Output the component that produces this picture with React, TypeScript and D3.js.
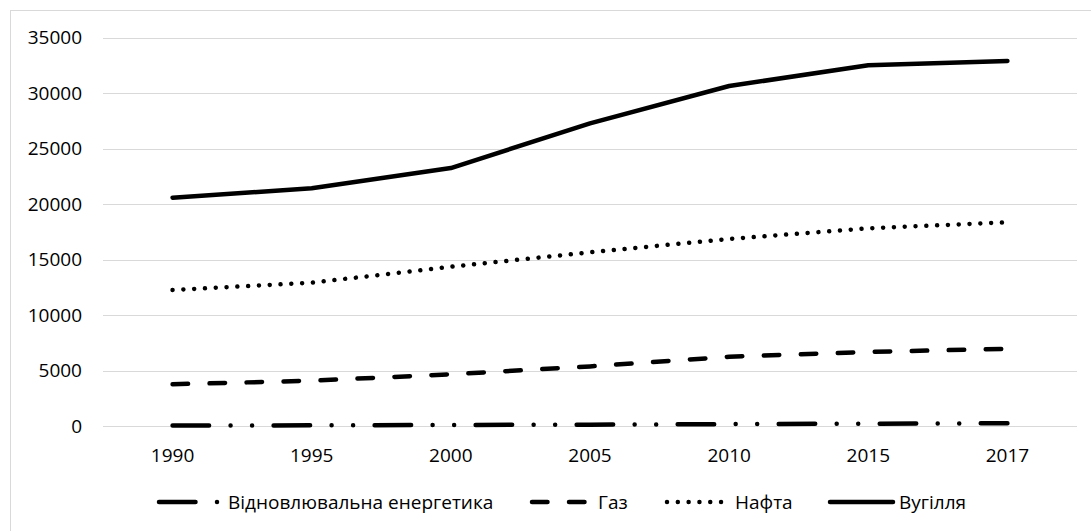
import React from "react";
import * as d3 from "d3";

// Years on the category axis
const years = ["1990", "1995", "2000", "2005", "2010", "2015", "2017"];

// Series values
const renewables = [40, 60, 90, 120, 170, 210, 250];
const gas = [3760, 4080, 4660, 5370, 6240, 6670, 6960];
const oil = [12250, 12910, 14350, 15650, 16850, 17810, 18350];
const coal = [20570, 21410, 23240, 27270, 30630, 32500, 32880];

// Y axis ticks
const yTicks = [0, 5000, 10000, 15000, 20000, 25000, 30000, 35000];

const seriesNames = ["Відновлювальна енергетика", "Газ", "Нафта", "Вугілля"];

const W = 1091;
const H = 531;
const FONT = "'Open Sans', sans-serif";

type Series = { name: string; values: number[]; dash: string };

export default function App() {
  const x = d3.scaleBand<string>().domain(years).range([103, 1077]);
  const y = d3.scaleLinear().domain([0, 35000]).range([426, 37.5]);
  const cx = (yr: string) => (x(yr) ?? 0) + x.bandwidth() / 2;

  const series: Series[] = [
    { name: seriesNames[0], values: renewables, dash: "36.5,21.5,0.01,21.5,0.01,21.5" },
    { name: seriesNames[1], values: gas, dash: "15.5,21.5" },
    { name: seriesNames[2], values: oil, dash: "0.01,10.8" },
    { name: seriesNames[3], values: coal, dash: "" },
  ];

  const line = d3
    .line<number>()
    .x((_, i) => cx(years[i]))
    .y((v) => y(v));

  // Legend layout: sample start, sample end, text start
  const legendItems = [
    { s: 157, e: 220, t: 228 },
    { s: 530, e: 586, t: 598 },
    { s: 665, e: 723, t: 735 },
    { s: 828, e: 893, t: 899 },
  ];
  const legendY = 502;

  return (
    <svg
      width={W}
      height={H}
      style={{ position: "absolute", left: 0, top: 0, background: "#fff" }}
      fontFamily={FONT}
    >
      <rect x={10.5} y={10.5} width={1200} height={600} fill="#fff" stroke="#d9d9d9" strokeWidth={1} />

      {yTicks.map((t) => (
        <g key={t}>
          <line x1={103} x2={1077} y1={Math.round(y(t)) + 0.5} y2={Math.round(y(t)) + 0.5} stroke="#d9d9d9" strokeWidth={1} />
          <text x={82} y={y(t)} dy="0.35em" textAnchor="end" fontSize={19} fill="#000">
            {t}
          </text>
        </g>
      ))}

      {years.map((yr) => (
        <text key={yr} x={cx(yr)} y={462} textAnchor="middle" fontSize={19} fill="#000">
          {yr}
        </text>
      ))}

      {series.map((s) => (
        <path
          key={s.name}
          d={line(s.values) ?? ""}
          fill="none"
          stroke="#000"
          strokeWidth={4.5}
          strokeLinecap="round"
          strokeLinejoin="round"
          strokeDasharray={s.dash || undefined}
        />
      ))}

      {series.map((s, i) => {
        const it = legendItems[i];
        return (
          <g key={s.name}>
            <line
              x1={it.s + 2}
              x2={it.e}
              y1={legendY}
              y2={legendY}
              stroke="#000"
              strokeWidth={4.5}
              strokeLinecap="round"
              strokeDasharray={s.dash || undefined}
            />
            <text x={it.t} y={legendY} dy="0.35em" fontSize={19} fill="#000">
              {s.name}
            </text>
          </g>
        );
      })}
    </svg>
  );
}
